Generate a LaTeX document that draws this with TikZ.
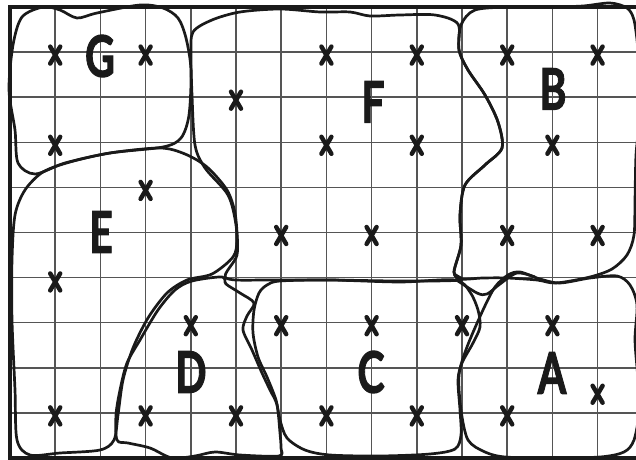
\documentclass[tikz,border=0pt]{standalone}
\usepackage{fontspec}
\newfontfamily\mapfont{Lato}[BoldFeatures={FakeBold=2}]
\definecolor{MapInk}{HTML}{1A1A1A}
\definecolor{MapGrid}{HTML}{555555}
\tikzset{
  gridline/.style={MapGrid,line width=0.9pt},
  frame/.style={MapInk,line width=1.9pt},
  zone/.style={MapInk,line width=1.7pt,line join=round},
  letter/.style={text=MapInk,font=\mapfont\bfseries\fontsize{36}{36}\selectfont,
                 xscale=.72,transform shape,inner sep=0pt},
}
% one hand-drawn cross on a grid crossing (column, row counted from the top)
\newcommand{\spot}[2]{%
  \begin{scope}[shift={({10+45.2*#1},{10+45.1*#2})}]
    \draw[MapInk,line width=2.8pt,line cap=round] (-5,-8.5) -- (5,8.5) (-5,8.5) -- (5,-8.5);
  \end{scope}%
}

\begin{document}
\begin{tikzpicture}[x=0.2212mm,y=-0.2212mm]
  \path[use as bounding box] (0,0) rectangle (636,460);
  \clip (0,0) rectangle (636,460);

  % the squared sheet
  \foreach \k in {1,...,13}
    \draw[gridline] ({10+45.2*\k},7) -- ({10+45.2*\k},458);
  \foreach \j in {1,...,9}
    \draw[gridline] (10,{7+45.1*\j}) -- (643,{7+45.1*\j});
  \draw[frame] (10,7) rectangle (643,458);

  % the seven zones, traced by hand
  \draw[zone] plot[smooth cycle] coordinates {(22,17) (43,7) (60,10) (77,18) (97,13)
    (140,5) (163,8) (178,18) (186,38) (191,70) (189,115) (181,138) (163,147)
    (110,153) (65,163) (35,174) (18,163) (15,130) (9,90) (13,45)};% G
  \draw[zone] plot[smooth cycle] coordinates {(43,172) (70,162) (110,153) (160,148)
    (185,154) (207,167) (227,190) (235,213) (237,240) (233,257) (212,274) (187,280)
    (167,293) (148,318) (133,348) (123,380) (118,415) (114,440) (100,450) (60,453)
    (30,455) (17,440) (15,390) (12,320) (12,260) (15,215) (25,190)};% E
  \draw[zone] plot[smooth cycle] coordinates {(193,32) (212,20) (240,12) (280,9)
    (320,12) (350,12) (370,16) (400,15) (435,15) (458,24) (459,50) (468,70) (485,95)
    (498,122) (502,148) (485,165) (465,185) (460,215) (461,245) (454,272) (460,280)
    (400,281) (330,280) (270,280) (226,278) (237,255) (236,225) (228,195) (205,168)
    (195,145) (192,95) (191,55)};% F
  \draw[zone] plot[smooth cycle] coordinates {(461,25) (475,10) (510,7) (550,7)
    (583,6) (610,3) (627,8) (634,20) (638,50) (640,90) (639,125) (636,155) (635,200)
    (634,235) (627,255) (612,269) (590,277) (556,283) (537,280) (507,278) (483,278)
    (461,279) (454,272) (461,245) (460,215) (465,185) (485,165) (502,148) (498,122)
    (485,95) (468,70) (459,50)};% B
  \draw[zone] plot[smooth cycle] coordinates {(222,277) (226,284) (240,293) (254,303)
    (247,316) (243,330) (252,350) (262,373) (270,390) (277,405) (280,433) (281,448)
    (279,456) (240,455) (215,452) (195,456) (172,458) (150,448) (128,443) (117,440)
    (116,415) (120,390) (127,363) (140,340) (158,310) (175,290) (192,281)};% D
  \draw[zone] plot[smooth cycle] coordinates {(267,285) (280,281) (330,280) (400,282)
    (455,280) (470,292) (478,310) (480,327) (473,343) (462,363) (458,380) (460,410)
    (461,435) (455,449) (430,454) (380,456) (330,455) (305,450) (287,438) (280,420)
    (276,400) (267,377) (258,357) (253,333) (254,310) (259,293)};% C
  \draw[zone] plot[smooth cycle] coordinates {(508,275) (520,272) (540,279) (560,283)
    (590,278) (617,276) (630,285) (637,305) (635,340) (638,380) (639,412) (634,440)
    (624,452) (600,457) (550,458) (505,457) (485,452) (468,440) (461,410) (459,375)
    (467,347) (483,310) (495,287)};% A
  \draw[zone] plot[smooth] coordinates {(455,279) (477,293) (487,294) (500,284)
    (517,273) (535,277)};

  % crosses
  \foreach \c/\r in {1/1,3/1,7/1,9/1,11/1,13/1,5/2,1/3,7/3,9/3,12/3,3/4,
                     6/5,8/5,11/5,13/5,1/6.03,4/7,6/7,8/7,10/7,12/7,13/8.52,
                     1/9,3/9,5/9,7/9,9/9,11/9}
    {\spot{\c}{\r}}

  % zone names
  \node[letter] (G) at (100,56) {G};
  \node[letter] (F) at (373,102) {F};
  \node[letter] (B) at (553,89) {B};
  \node[letter] (E) at (101,232) {E};
  \node[letter] (D) at (191,372) {D};
  \node[letter] (C) at (371,372) {C};
  \node[letter] (A) at (552,373) {A};
\end{tikzpicture}
\end{document}
